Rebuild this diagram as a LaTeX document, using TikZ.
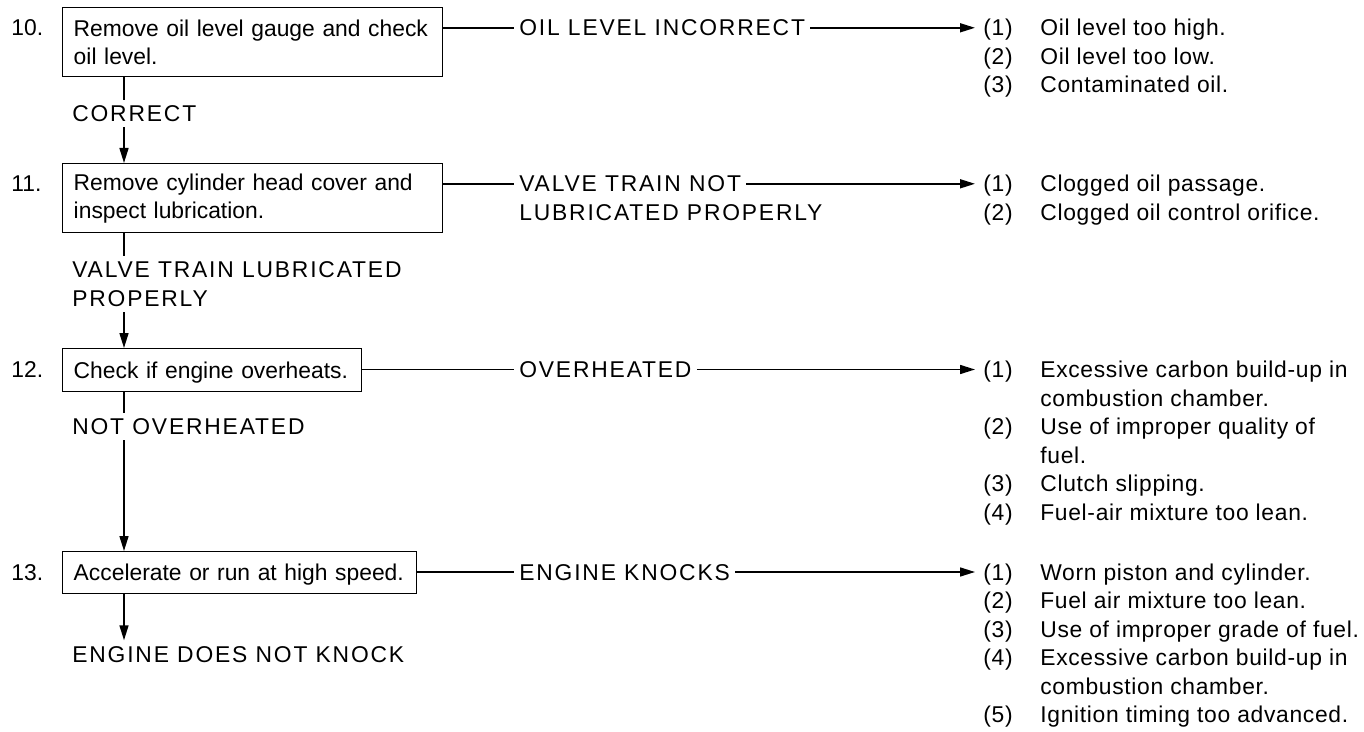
\documentclass[tikz,border=0pt]{standalone}
\usepackage{fontspec}
\setmainfont{Liberation Sans}
\newfontfamily\capsfont[LetterSpace=8]{Liberation Sans}
\newfontfamily\listfont[LetterSpace=3]{Liberation Sans}
\usetikzlibrary{arrows.meta}
\newcommand\causeline[2]{\makebox[1.14cm][l]{#1}#2}
\begin{document}
\begin{tikzpicture}[x=0.02cm,y=-0.02cm,
  every node/.style={font=\fontsize{13pt}{15.9pt}\selectfont, inner sep=0pt},
  boxtwo/.style={draw, line width=0.85pt, anchor=north west, align=left,
    inner xsep=0.22cm, inner ysep=0pt, text width=#1, minimum height=1.38cm},
  boxone/.style={draw, line width=0.85pt, anchor=north west, align=left,
    inner xsep=0.22cm, inner ysep=0pt, text width=#1, minimum height=0.86cm,
    text height=0.328cm, text depth=0pt},
  lab/.style={anchor=base west, font=\fontsize{13pt}{15.9pt}\capsfont,
    text height=0.328cm, text depth=0pt, inner xsep=0.1cm, inner ysep=0pt},
  vlab/.style={anchor=base west, font=\fontsize{13pt}{15.9pt}\capsfont,
    text height=0.328cm, text depth=0pt, inner xsep=0pt, inner ysep=0.1cm},
  cause/.style={anchor=base west, font=\fontsize{13pt}{15.9pt}\listfont,
    text height=0.328cm, text depth=0pt, inner xsep=0.16cm, inner ysep=0pt},
  num/.style={anchor=base west},
  conn/.style={line width=0.9pt},
  arr/.style={conn, -{Triangle[length=0.3cm,width=0.18cm]}}
]
\useasboundingbox (0,0) rectangle (1364,732);
\coordinate (vx) at (124,0);

% step numbers
\node[num] (n10) at (11,36) {10.};
\node[num] (n11) at (11,192) {11.};
\node[num] (n12) at (11,377.7) {12.};
\node[num] (n13) at (11,580.2) {13.};

% boxes
\node[boxtwo=7.16cm] (b10) at (62,7) {Remove oil level gauge and check\\oil level.};
\node[boxtwo=7.16cm] (b11) at (62,163) {Remove cylinder head cover and\\inspect lubrication.};
\node[boxone=5.54cm] (b12) at (62,348) {Check if engine overheats.};
\node[boxone=6.64cm, minimum height=0.84cm] (b13) at (62,551) {Accelerate or run at high speed.};

% vertical labels
\node[vlab] (ok10) at (72,122) {CORRECT};
\node[vlab] (ok11a) at (72,278) {VALVE TRAIN LUBRICATED};
\node[vlab] (ok11b) at (72,307) {PROPERLY};
\node[vlab] (ok12) at (72,435) {NOT OVERHEATED};
\node[vlab] (ok13) at (72,662) {ENGINE DOES NOT KNOCK};

% horizontal labels
\node[lab] (l10) at (514,36) {OIL LEVEL INCORRECT};
\node[lab] (l11) at (514,192) {VALVE TRAIN NOT};
\node[lab] (l11b) at (514,220.5) {LUBRICATED PROPERLY};
\node[lab] (l12) at (514,377.7) {OVERHEATED};
\node[lab] (l13) at (514,580.2) {ENGINE KNOCKS};

% causes group 1
\node[cause] (c10a) at (975,36) {\causeline{(1)}{Oil level too high.}};
\node[cause] (c10b) at (975,64.5) {\causeline{(2)}{Oil level too low.}};
\node[cause] (c10c) at (975,93) {\causeline{(3)}{Contaminated oil.}};
% group 2
\node[cause] (c11a) at (975,192) {\causeline{(1)}{Clogged oil passage.}};
\node[cause] (c11b) at (975,220.5) {\causeline{(2)}{Clogged oil control orifice.}};
% group 3
\node[cause] (c12a) at (975,377.7) {\causeline{(1)}{Excessive carbon build-up in}};
\node[cause] (c12b) at (975,406.2) {\causeline{}{combustion chamber.}};
\node[cause] (c12c) at (975,434.7) {\causeline{(2)}{Use of improper quality of}};
\node[cause] (c12d) at (975,463.2) {\causeline{}{fuel.}};
\node[cause] (c12e) at (975,491.7) {\causeline{(3)}{Clutch slipping.}};
\node[cause] (c12f) at (975,520.2) {\causeline{(4)}{Fuel-air mixture too lean.}};
% group 4
\node[cause] (c13a) at (975,580.2) {\causeline{(1)}{Worn piston and cylinder.}};
\node[cause] (c13b) at (975,608.7) {\causeline{(2)}{Fuel air mixture too lean.}};
\node[cause] (c13c) at (975,637.2) {\causeline{(3)}{Use of improper grade of fuel.}};
\node[cause] (c13d) at (975,665.7) {\causeline{(4)}{Excessive carbon build-up in}};
\node[cause] (c13e) at (975,694.2) {\causeline{}{combustion chamber.}};
\node[cause] (c13f) at (975,722.7) {\causeline{(5)}{Ignition timing too advanced.}};

% vertical connectors
\draw[conn] (b10.south -| vx) -- (ok10.north -| vx);
\draw[arr] (ok10.south -| vx) -- (b11.north -| vx);
\draw[conn] (b11.south -| vx) -- (ok11a.north -| vx);
\draw[arr] (ok11b.south -| vx) -- (b12.north -| vx);
\draw[conn] (b12.south -| vx) -- (ok12.north -| vx);
\draw[arr] (ok12.south -| vx) -- (b13.north -| vx);
\draw[arr] (b13.south -| vx) -- (ok13.north -| vx);

% horizontal connectors
\draw[conn] (l10.west -| b10.east) -- (l10.west);
\draw[arr] (l10.east) -- (c10a.west);
\draw[conn] (l11.west -| b11.east) -- (l11.west);
\draw[arr] (l11.east) -- (c11a.west);
\draw[conn] (l12.west -| b12.east) -- (l12.west);
\draw[arr] (l12.east) -- (c12a.west);
\draw[conn] (l13.west -| b13.east) -- (l13.west);
\draw[arr] (l13.east) -- (c13a.west);
\end{tikzpicture}
\end{document}
